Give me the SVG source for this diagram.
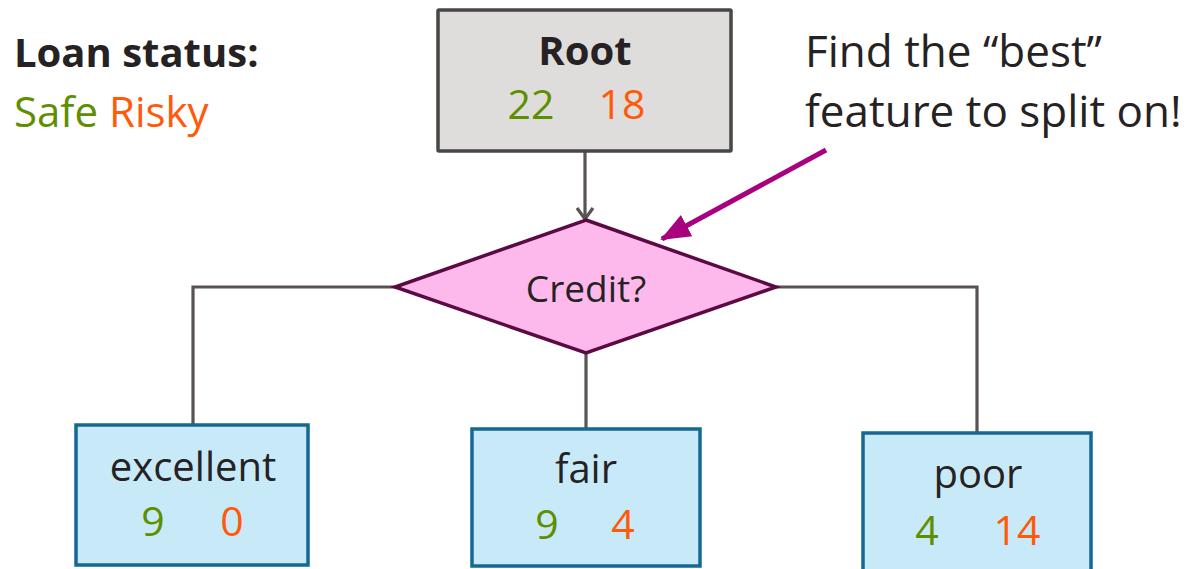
<svg xmlns="http://www.w3.org/2000/svg" width="1194" height="569" viewBox="0 0 1194 569">
<defs>
<style>
text{font-family:"Open Sans","Noto Sans","DejaVu Sans",sans-serif;fill:#262223}
.g{fill:#5f8f00}
.r{fill:#ff5a0a}
.box{fill:#c8eaf8;stroke:#146893;stroke-width:3.5}
.conn{fill:none;stroke:#595354;stroke-width:3.2}
.mid{text-anchor:middle}
.lbl{font-size:40px}
.num{font-size:41px}
</style>
<marker id="openArrow" markerWidth="20" markerHeight="20" refX="14" refY="10" orient="auto" markerUnits="userSpaceOnUse">
<path d="M3,2 L14,10 L3,18" fill="none" stroke="#595354" stroke-width="3.2"/>
</marker>
<marker id="fillArrow" markerWidth="34" markerHeight="28" refX="28" refY="14" orient="auto" markerUnits="userSpaceOnUse">
<path d="M0,2 L30,14 L0,26 Z" fill="#a8007f"/>
</marker>
</defs>
<g id="legend">
<text x="14" y="67" font-size="40" font-weight="bold">Loan status:</text>
<text x="14" y="127" font-size="42"><tspan class="g">Safe</tspan> <tspan class="r">Risky</tspan></text>
</g>
<g id="callout">
<text x="805" y="67" font-size="44">Find the “best”</text>
<text x="805" y="127" font-size="44">feature to split on!</text>
</g>
<g id="connectors">
<line class="conn" x1="585" y1="151" x2="585" y2="219" marker-end="url(#openArrow)"/>
<polyline class="conn" points="395,287 193,287 193,426"/>
<line class="conn" x1="586" y1="353" x2="586" y2="429"/>
<polyline class="conn" points="776,287 977,287 977,432"/>
<line x1="826" y1="150" x2="662" y2="239" stroke="#a8007f" stroke-width="5" marker-end="url(#fillArrow)"/>
</g>
<g id="root">
<rect x="438" y="10" width="293" height="141" fill="#dedddc" stroke="#4a4546" stroke-width="3.5" rx="1"/>
<text class="mid" x="585" y="65" font-size="40" font-weight="bold">Root</text>
<text class="mid g num" x="531" y="119">22</text>
<text class="mid r num" x="622" y="119">18</text>
</g>
<g id="credit">
<polygon points="586,220 776,287 586,353 395,287" fill="#fdb9ec" stroke="#5c0a44" stroke-width="3.5"/>
<text class="mid" x="586" y="302" font-size="37">Credit?</text>
</g>
<g id="excellent">
<rect class="box" x="76" y="425" width="232" height="140"/>
<text class="mid lbl" x="193" y="481">excellent</text>
<text class="mid g num" x="153" y="536">9</text>
<text class="mid r num" x="232" y="536">0</text>
</g>
<g id="fair">
<rect class="box" x="472" y="429" width="228" height="137"/>
<text class="mid lbl" x="586" y="483">fair</text>
<text class="mid g num" x="547" y="539">9</text>
<text class="mid r num" x="623" y="539">4</text>
</g>
<g id="poor">
<rect class="box" x="863" y="433" width="228" height="150"/>
<text class="mid lbl" x="978" y="488">poor</text>
<text class="mid g num" x="927" y="545">4</text>
<text class="mid r num" x="1017" y="545">14</text>
</g>
</svg>
